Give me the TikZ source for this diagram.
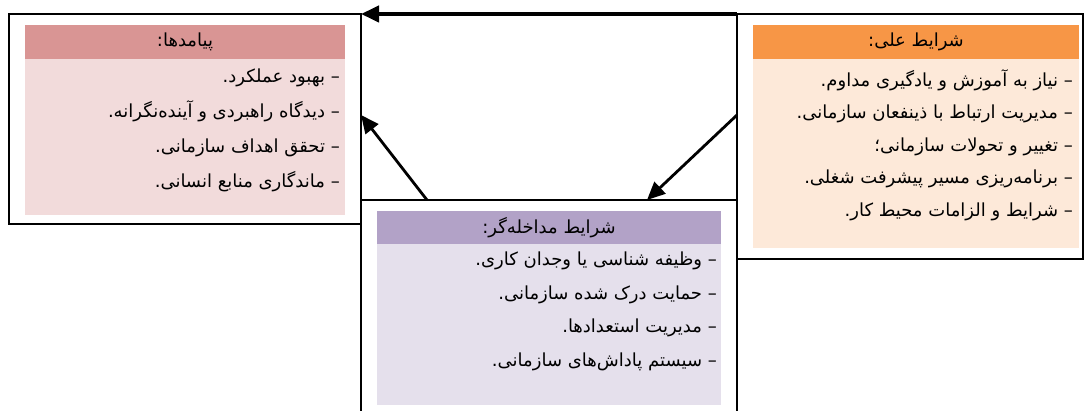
\documentclass[tikz,border=0pt]{standalone}
\usepackage{fontspec}
\newfontfamily\arabicfont[Script=Arabic]{DejaVu Sans}
\TeXXeTstate=1
\usetikzlibrary{arrows.meta}
\newcommand{\fa}[1]{\beginR #1\endR}
\definecolor{outhead}{HTML}{D99594}
\definecolor{outfill}{HTML}{F2DBDB}
\definecolor{causehead}{HTML}{F79646}
\definecolor{causefill}{HTML}{FDE9D9}
\definecolor{midhead}{HTML}{B2A2C7}
\definecolor{midfill}{HTML}{E5E0EC}
\tikzset{
  frame/.style={draw=black, line width=1.6pt, anchor=north west, inner sep=0pt, outer sep=0pt},
  head/.style={anchor=north west, inner sep=0pt, outer sep=0pt, minimum height=34pt,
    font=\arabicfont\fontsize{18}{20}\selectfont},
  bodyfill/.style={anchor=north west, inner sep=0pt, outer sep=0pt},
  items/.style={anchor=north east, inner sep=0pt, align=right,
    font=\arabicfont\fontsize{18}{35}\selectfont},
  linkar/.style={line width=2.8pt, -{Triangle[length=18pt,width=16pt]}}
}
\begin{document}
\begin{tikzpicture}[x=1pt,y=-1pt]
  \useasboundingbox (0,0) rectangle (1084,411);

  \node[frame, minimum width=352pt, minimum height=210pt] (outbox) at (9,14) {};
  \node[frame, minimum width=346pt, minimum height=245pt] (causebox) at (737,14) {};
  \node[frame, minimum width=376pt, minimum height=220pt] (midbox) at (361,200) {};

  \node[head, fill=outhead, minimum width=320pt] (outtitle) at (25,25) {\fa{پیامدها:}};
  \node[bodyfill, fill=outfill, minimum width=320pt, minimum height=156pt] (outbody) at (25,59) {};
  \node[items] (outlist) at ([xshift=-5pt,yshift=-10pt]outbody.north east) {%
    \fa{– بهبود عملکرد.}\\
    \fa{– دیدگاه راهبردی و آینده‌نگرانه.}\\
    \fa{– تحقق اهداف سازمانی.}\\
    \fa{– ماندگاری منابع انسانی.}};

  \node[head, fill=causehead, minimum width=326pt] (causetitle) at (753,25) {\fa{شرایط علی:}};
  \node[bodyfill, fill=causefill, minimum width=326pt, minimum height=189pt] (causebody) at (753,59) {};
  \node[items, font=\arabicfont\fontsize{18}{32.5}\selectfont] (causelist) at ([xshift=-6pt,yshift=-10pt]causebody.north east) {%
    \fa{– نیاز به آموزش و یادگیری مداوم.}\\
    \fa{– مدیریت ارتباط با ذینفعان سازمانی.}\\
    \fa{– تغییر و تحولات سازمانی؛}\\
    \fa{– برنامه‌ریزی مسیر پیشرفت شغلی.}\\
    \fa{– شرایط و الزامات محیط کار.}};

  \node[head, fill=midhead, minimum width=344pt] (midtitle) at (377,211) {\fa{شرایط مداخله‌گر:}};
  \node[bodyfill, fill=midfill, minimum width=344pt, minimum height=161pt] (midbody) at (377,244) {};
  \node[items, font=\arabicfont\fontsize{18}{33.5}\selectfont] (midlist) at ([xshift=-4pt,yshift=-8pt]midbody.north east) {%
    \fa{– وظیفه شناسی یا وجدان کاری.}\\
    \fa{– حمایت درک شده سازمانی.}\\
    \fa{– مدیریت استعدادها.}\\
    \fa{– سیستم پاداش‌های سازمانی.}};

  \draw[linkar, line width=4pt] (causebox.north west) -- (outbox.north east);
  \draw[linkar] ([yshift=-101pt]causebox.north west) -- ([xshift=98pt]midbox.north);
  \draw[linkar] ([xshift=-122pt]midbox.north) -- ([yshift=-101pt]outbox.north east);
\end{tikzpicture}
\end{document}
